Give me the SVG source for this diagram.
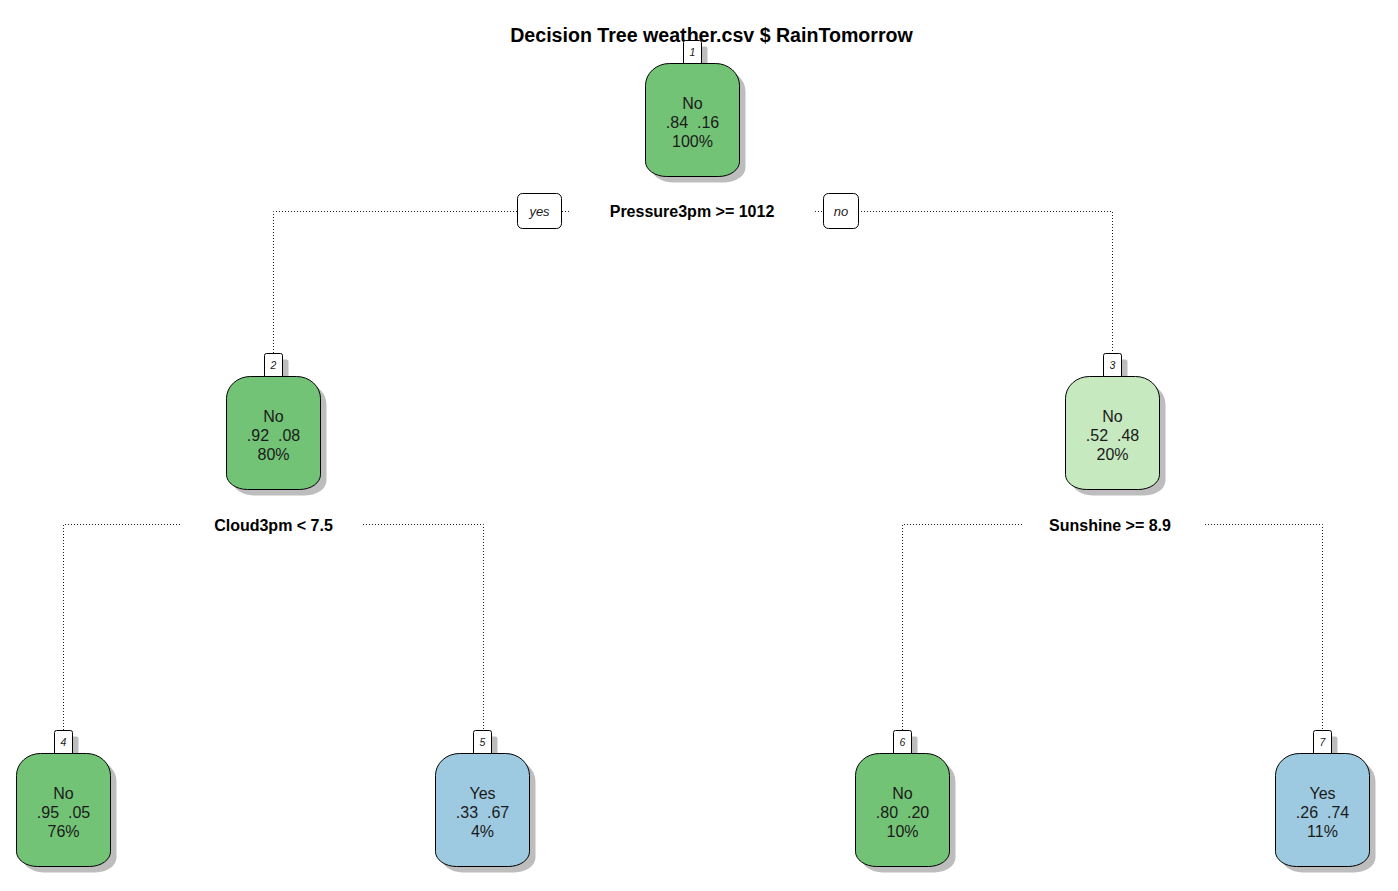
<svg xmlns="http://www.w3.org/2000/svg" xmlns:xlink="http://www.w3.org/1999/xlink" width="1398" height="891" viewBox="0 0 1398 891">
<style>
  .bg { fill: #ffffff; }
  .title { font-family: "Liberation Sans", Arial, sans-serif; font-size: 19.6px; font-weight: bold; fill: #000; text-anchor: middle; }
  .split { font-family: "Liberation Sans", Arial, sans-serif; font-size: 16px; font-weight: bold; fill: #000; text-anchor: middle; }
  .ntext { font-family: "Liberation Sans", Arial, sans-serif; font-size: 16px; fill: #1a1a1a; text-anchor: middle; white-space: pre; }
  .num { font-family: "Liberation Sans", Arial, sans-serif; font-size: 10.5px; font-style: italic; fill: #1a1a1a; text-anchor: middle; }
  .yn { font-family: "Liberation Sans", Arial, sans-serif; font-size: 13px; font-style: italic; fill: #1a1a1a; text-anchor: middle; }
  .edge { fill: none; stroke: #222; stroke-width: 1; stroke-dasharray: 1 2; }
  .shadow { fill: #bdbdbd; filter: url(#soft); }
  .outline { stroke: #000; stroke-width: 1; }
  .green { fill: #73c376; }
  .light { fill: #c7e9c0; }
  .blue { fill: #9ecae1; }
  .nbox { fill: #ffffff; stroke: #000; stroke-width: 1; }
  .ynbox { fill: #ffffff; stroke: #000; stroke-width: 1; }
</style>
<defs>
  <filter id="soft" x="-10%" y="-10%" width="130%" height="130%">
    <feGaussianBlur stdDeviation="0.6"/>
  </filter>
  <path id="nodeShape" d="M0.5,22.5 A24,22 0 0 1 24.5,0.5 L70.5,0.5 A24,22 0 0 1 94.5,22.5 L94.5,98.5 A21,15 0 0 1 73.5,113.5 L21.5,113.5 A21,15 0 0 1 0.5,98.5 Z"/>
  <path id="numShape" d="M0.5,23.5 L0.5,2.5 Q0.5,0.5 2.5,0.5 L16.5,0.5 Q18.5,0.5 18.5,2.5 L18.5,23.5 Z"/>
</defs>
<rect class="bg" x="0" y="0" width="1398" height="891"/>

<text class="title" x="711.5" y="41.5">Decision Tree weather.csv $ RainTomorrow</text>

<g id="connectors">
  <path class="edge" d="M273.5,353 L273.5,211.5 L517,211.5"/>
  <path class="edge" d="M562,211.5 L569,211.5"/>
  <path class="edge" d="M815,211.5 L823,211.5"/>
  <path class="edge" d="M858,211.5 L1112.5,211.5 L1112.5,353"/>
  <path class="edge" d="M63.5,730 L63.5,524.5 L182,524.5"/>
  <path class="edge" d="M363,524.5 L483.5,524.5 L483.5,730"/>
  <path class="edge" d="M902.5,730 L902.5,524.5 L1022,524.5"/>
  <path class="edge" d="M1205,524.5 L1322.5,524.5 L1322.5,730"/>
</g>

<g id="split-labels">
  <rect class="ynbox" x="517.5" y="193.5" width="44" height="35" rx="5"/>
  <text class="yn" x="539.5" y="216">yes</text>
  <text class="split" x="692" y="217">Pressure3pm &gt;= 1012</text>
  <rect class="ynbox" x="823.5" y="193.5" width="35" height="35" rx="5"/>
  <text class="yn" x="841" y="216">no</text>
  <text class="split" x="273.5" y="530.5">Cloud3pm &lt; 7.5</text>
  <text class="split" x="1110" y="531">Sunshine &gt;= 8.9</text>
</g>

<g id="node1">
  <use xlink:href="#nodeShape" href="#nodeShape" class="shadow" x="651" y="69"/>
  <use xlink:href="#numShape" href="#numShape" class="shadow" x="689" y="46"/>
  <use xlink:href="#nodeShape" href="#nodeShape" class="green outline" x="645" y="63"/>
  <use xlink:href="#numShape" href="#numShape" class="nbox" x="683" y="40"/>
  <text class="num" x="692.5" y="56">1</text>
  <text class="ntext" x="692.5" y="108.5">No</text>
  <text class="ntext" x="692.5" y="127.5">.84  .16</text>
  <text class="ntext" x="692.5" y="146.5">100%</text>
</g>

<g id="node2">
  <use xlink:href="#nodeShape" href="#nodeShape" class="shadow" x="232" y="382"/>
  <use xlink:href="#numShape" href="#numShape" class="shadow" x="270" y="359"/>
  <use xlink:href="#nodeShape" href="#nodeShape" class="green outline" x="226" y="376"/>
  <use xlink:href="#numShape" href="#numShape" class="nbox" x="264" y="353"/>
  <text class="num" x="273.5" y="369">2</text>
  <text class="ntext" x="273.5" y="421.5">No</text>
  <text class="ntext" x="273.5" y="440.5">.92  .08</text>
  <text class="ntext" x="273.5" y="459.5">80%</text>
</g>

<g id="node3">
  <use xlink:href="#nodeShape" href="#nodeShape" class="shadow" x="1071" y="382"/>
  <use xlink:href="#numShape" href="#numShape" class="shadow" x="1109" y="359"/>
  <use xlink:href="#nodeShape" href="#nodeShape" class="light outline" x="1065" y="376"/>
  <use xlink:href="#numShape" href="#numShape" class="nbox" x="1103" y="353"/>
  <text class="num" x="1112.5" y="369">3</text>
  <text class="ntext" x="1112.5" y="421.5">No</text>
  <text class="ntext" x="1112.5" y="440.5">.52  .48</text>
  <text class="ntext" x="1112.5" y="459.5">20%</text>
</g>

<g id="node4">
  <use xlink:href="#nodeShape" href="#nodeShape" class="shadow" x="22" y="759"/>
  <use xlink:href="#numShape" href="#numShape" class="shadow" x="60" y="736"/>
  <use xlink:href="#nodeShape" href="#nodeShape" class="green outline" x="16" y="753"/>
  <use xlink:href="#numShape" href="#numShape" class="nbox" x="54" y="730"/>
  <text class="num" x="63.5" y="746">4</text>
  <text class="ntext" x="63.5" y="798.5">No</text>
  <text class="ntext" x="63.5" y="817.5">.95  .05</text>
  <text class="ntext" x="63.5" y="836.5">76%</text>
</g>

<g id="node5">
  <use xlink:href="#nodeShape" href="#nodeShape" class="shadow" x="441" y="759"/>
  <use xlink:href="#numShape" href="#numShape" class="shadow" x="479" y="736"/>
  <use xlink:href="#nodeShape" href="#nodeShape" class="blue outline" x="435" y="753"/>
  <use xlink:href="#numShape" href="#numShape" class="nbox" x="473" y="730"/>
  <text class="num" x="482.5" y="746">5</text>
  <text class="ntext" x="482.5" y="798.5">Yes</text>
  <text class="ntext" x="482.5" y="817.5">.33  .67</text>
  <text class="ntext" x="482.5" y="836.5">4%</text>
</g>

<g id="node6">
  <use xlink:href="#nodeShape" href="#nodeShape" class="shadow" x="861" y="759"/>
  <use xlink:href="#numShape" href="#numShape" class="shadow" x="899" y="736"/>
  <use xlink:href="#nodeShape" href="#nodeShape" class="green outline" x="855" y="753"/>
  <use xlink:href="#numShape" href="#numShape" class="nbox" x="893" y="730"/>
  <text class="num" x="902.5" y="746">6</text>
  <text class="ntext" x="902.5" y="798.5">No</text>
  <text class="ntext" x="902.5" y="817.5">.80  .20</text>
  <text class="ntext" x="902.5" y="836.5">10%</text>
</g>

<g id="node7">
  <use xlink:href="#nodeShape" href="#nodeShape" class="shadow" x="1281" y="759"/>
  <use xlink:href="#numShape" href="#numShape" class="shadow" x="1319" y="736"/>
  <use xlink:href="#nodeShape" href="#nodeShape" class="blue outline" x="1275" y="753"/>
  <use xlink:href="#numShape" href="#numShape" class="nbox" x="1313" y="730"/>
  <text class="num" x="1322.5" y="746">7</text>
  <text class="ntext" x="1322.5" y="798.5">Yes</text>
  <text class="ntext" x="1322.5" y="817.5">.26  .74</text>
  <text class="ntext" x="1322.5" y="836.5">11%</text>
</g>
</svg>
